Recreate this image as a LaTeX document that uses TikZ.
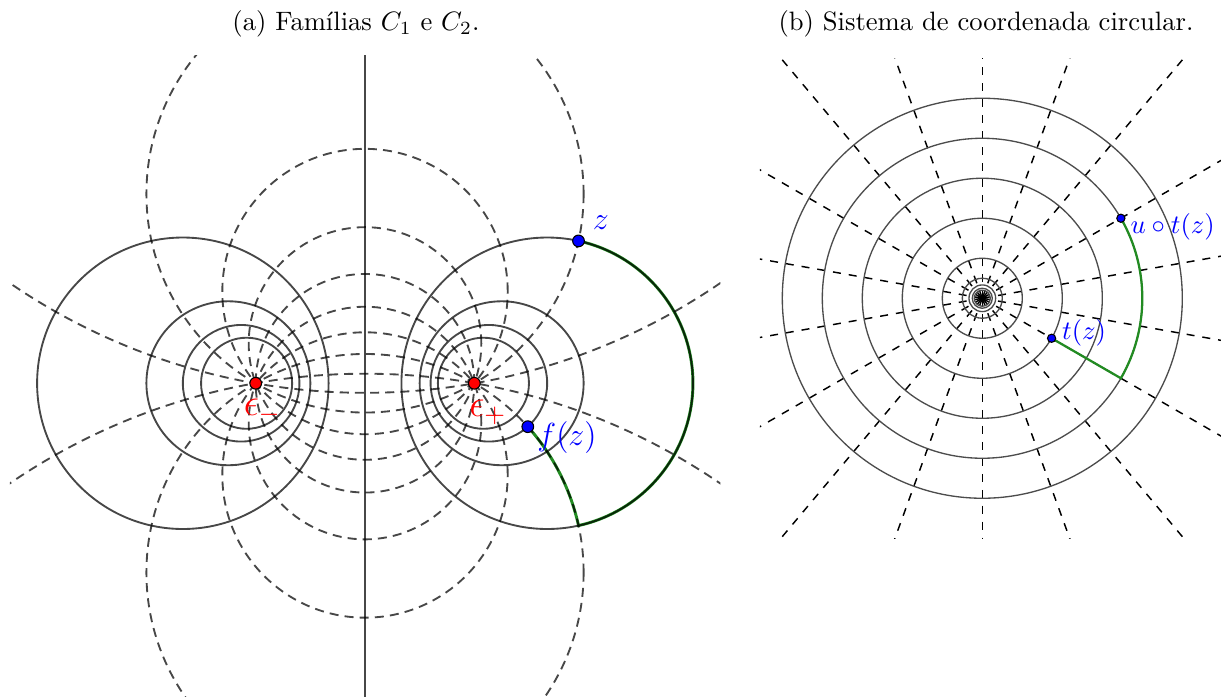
\documentclass[tikz,border=0pt]{standalone}
\usepackage{amsmath,amssymb}
\usepackage{tikz}
\usetikzlibrary{calc,positioning}
\usepackage{xcolor}
\definecolor{pathgreen}{RGB}{34,139,34}
\tikzset{
  famone/.style    = {draw=black, draw opacity=0.72, line width=0.7pt},
  famtwo/.style    = {draw=black, draw opacity=0.72, line width=0.7pt,
                      dash pattern=on 3.4pt off 2.3pt},
  polcirc/.style   = {draw=black!70, line width=0.5pt},
  polray/.style    = {draw=black, dashed, line width=0.55pt},
  trail/.style     = {draw=pathgreen, line width=1.1pt},
  bead/.style      = {draw=black, fill=#1, circle, inner sep=0pt, minimum size=4.4pt},
  smallbead/.style = {draw=black, fill=#1, circle, inner sep=0pt, minimum size=3.1pt},
  tag/.style       = {anchor=base west, inner sep=0pt},
}

\begin{document}
\begin{tikzpicture}[x=1cm,y=1cm]
\useasboundingbox (0,0) rectangle (16.133,9.209);
\node[anchor=base] (capa) at (4.704,8.800) {(a) Famílias $C_1$ e $C_2$.};
\node[anchor=base] (capb) at (13.028,8.800) {(b) Sistema de coordenada circular.};

\begin{scope}[shift={(4.8228,4.1449)}, x=1.4442cm, y=1.4442cm]
  \begin{scope}
    \clip (-3.25,-3) rectangle (3.25,3);
    \draw[trail] (1.9533,1.3022) arc[start angle=77.59, end angle=-77.59, radius=4/3]
                 arc[start angle=12.41, end angle=41.87, radius=2];
    \foreach \ang in {10,30,...,170}
      \draw[famtwo] (0,{cot(\ang)}) circle[radius={1/sin(\ang)}];
    \draw[famone] (0,-3) -- (0,3);
    \foreach \k in {2,3,4,5} {
      \draw[famone] ({(\k*\k+1)/(\k*\k-1)},0) circle[radius={2*\k/(\k*\k-1)}];
      \draw[famone] ({-(\k*\k+1)/(\k*\k-1)},0) circle[radius={2*\k/(\k*\k-1)}];
    }
  \end{scope}
  \node[bead=red] (em) at (-1,0) {};
  \node[bead=red] (ep) at (1,0) {};
  \node[bead=blue] (z) at (1.9533,1.3022) {};
  \node[bead=blue] (fz) at (1.4893,-0.3972) {};
  \node[tag, text=red, font=\Large] (lem) at (-1.1135,-0.2946) {$\epsilon_-$};
  \node[tag, text=red, font=\Large] (lep) at (0.9497,-0.3038) {$\epsilon_+$};
  \node[tag, text=blue, font=\large] (lz) at (2.0796,1.4071) {$z$};
  \node[tag, text=blue, font=\large] (lfz) at (1.5727,-0.5737) {$f(z)$};
\end{scope}

\begin{scope}[shift={(12.979,5.268)}, x=0.52852cm, y=0.52852cm]
  \begin{scope}
    \clip (-5.56,-6) rectangle (6,6);
    \foreach \ang in {10,30,...,350}
      \draw[polray] (0,0) -- (\ang:9);
    \foreach \r in {0.2,0.25,1/3,0.5,1,2,3,4,5}
      \draw[polcirc] (0,0) circle[radius=\r];
  \end{scope}
  \draw[trail, line width=0.85pt] (-30:2) -- (-30:4) arc[start angle=-30, end angle=30, radius=4];
  \node[smallbead=blue] (tz) at (-30:2) {};
  \node[smallbead=blue] (utz) at (30:4) {};
  \node[tag, text=blue] (ltz) at (1.985,-1.0425) {$t(z)$};
  \node[tag, text=blue] (lutz) at (3.6925,1.625) {$u\circ t(z)$};
\end{scope}
\end{tikzpicture}
\end{document}
